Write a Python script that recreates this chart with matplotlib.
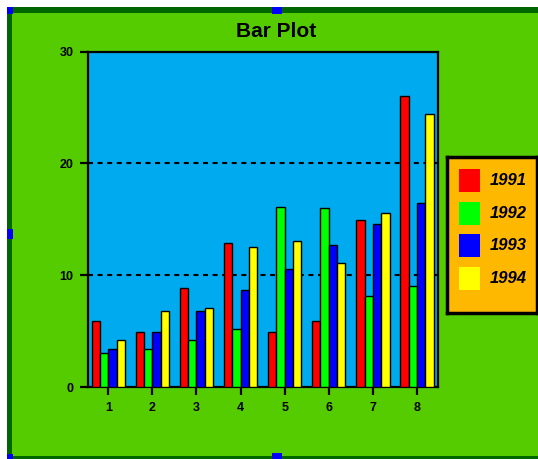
import matplotlib
matplotlib.use('Agg')
import matplotlib.pyplot as plt
from matplotlib.patches import Rectangle
import numpy as np

# data
groups = [1, 2, 3, 4, 5, 6, 7, 8]
years = ['1991', '1992', '1993', '1994']
v1991 = [5.9, 4.9, 8.9, 12.9, 4.9, 5.9, 14.9, 26.0]
v1992 = [3.0, 3.4, 4.2, 5.2, 16.1, 16.0, 8.1, 9.0]
v1993 = [3.4, 4.9, 6.8, 8.7, 10.6, 12.7, 14.6, 16.5]
v1994 = [4.2, 6.8, 7.1, 12.5, 13.1, 11.1, 15.6, 24.4]
colors = ['#ff0000', '#00ff00', '#0000ff', '#ffff00']
yticks = [0, 10, 20, 30]

W, H = 538, 459
plt.rcParams['font.family'] = ['Liberation Sans', 'DejaVu Sans']


def box(x0, y0, x1, y1):
    # pixel box (top-left origin) -> figure fraction rect
    return (x0 / W, 1 - y1 / H), (x1 - x0) / W, (y1 - y0) / H


fig = plt.figure(figsize=(W / 100, H / 100), dpi=100)
fig.patch.set_facecolor('white')

# outer frame
xy, w, h = box(7, 7, 560, 470)
fig.patches.append(Rectangle(xy, w, h, transform=fig.transFigure, facecolor='#006600', edgecolor='none', zorder=-3))
xy, w, h = box(12, 13, 560, 456)
fig.patches.append(Rectangle(xy, w, h, transform=fig.transFigure, facecolor='#55cc00', edgecolor='none', zorder=-2))
# selection handles
for x0, y0, x1, y1 in [(7, 7, 13, 14), (272, 7, 282, 14), (7, 229, 13, 239),
                       (7, 454, 13, 460), (272, 453, 282, 460)]:
    xy, w, h = box(x0, y0, x1, y1)
    fig.patches.append(Rectangle(xy, w, h, transform=fig.transFigure, facecolor='#0000ff', edgecolor='none', zorder=-1))

ax = fig.add_axes([88 / W, 1 - 387 / H, (438 - 88) / W, (387 - 51.7) / H])
ax.set_facecolor('#00aaee')

x = np.array(groups)
bw = 0.189
series = [v1991, v1992, v1993, v1994]
for i, vals in enumerate(series):
    ax.bar(x + (i - 1.5) * bw, vals, bw, color=colors[i], edgecolor='black', linewidth=1.0, zorder=3)

ax.set_xlim(0.54, 8.476)
ax.set_ylim(0, 30)
ax.set_xticks(groups)
ax.set_yticks(yticks)
ax.set_xticklabels([str(g) for g in groups], fontweight='bold', fontsize=9)
ax.set_yticklabels([str(t) for t in yticks], fontweight='bold', fontsize=9)
ax.tick_params(axis='both', direction='out', length=5.5, width=1.6, colors='black')
ax.tick_params(axis='y', pad=4.8)
ax.tick_params(axis='x', pad=5.5)
for s in ax.spines.values():
    s.set_linewidth(1.6)
for t in yticks[1:-1]:
    ax.axhline(t, color='black', linewidth=1.5, linestyle=(0, (2.4, 2.2)), zorder=2)

fig.text(276.5 / W, 1 - 37.3 / H, 'Bar Plot', ha='center', va='baseline',
         fontsize=15, fontweight='bold')

# legend box
lax = fig.add_axes([447 / W, 1 - 313 / H, (537 - 447) / W, (313 - 157) / H])
lax.set_facecolor('#ffb800')
lax.set_xlim(447, 537)
lax.set_ylim(313, 157)
lax.set_xticks([])
lax.set_yticks([])
for s in lax.spines.values():
    s.set_linewidth(2.5)
for i, yr in enumerate(years):
    top = 169.3 + i * 32.5
    lax.add_patch(Rectangle((459.3, top), 20.7, 23, facecolor=colors[i], edgecolor='none'))
    lax.text(489.5, top + 11.5, yr, fontsize=12, fontstyle='italic', fontweight='bold', va='center', ha='left')

fig.savefig('out.png', dpi=100, facecolor=fig.get_facecolor())
